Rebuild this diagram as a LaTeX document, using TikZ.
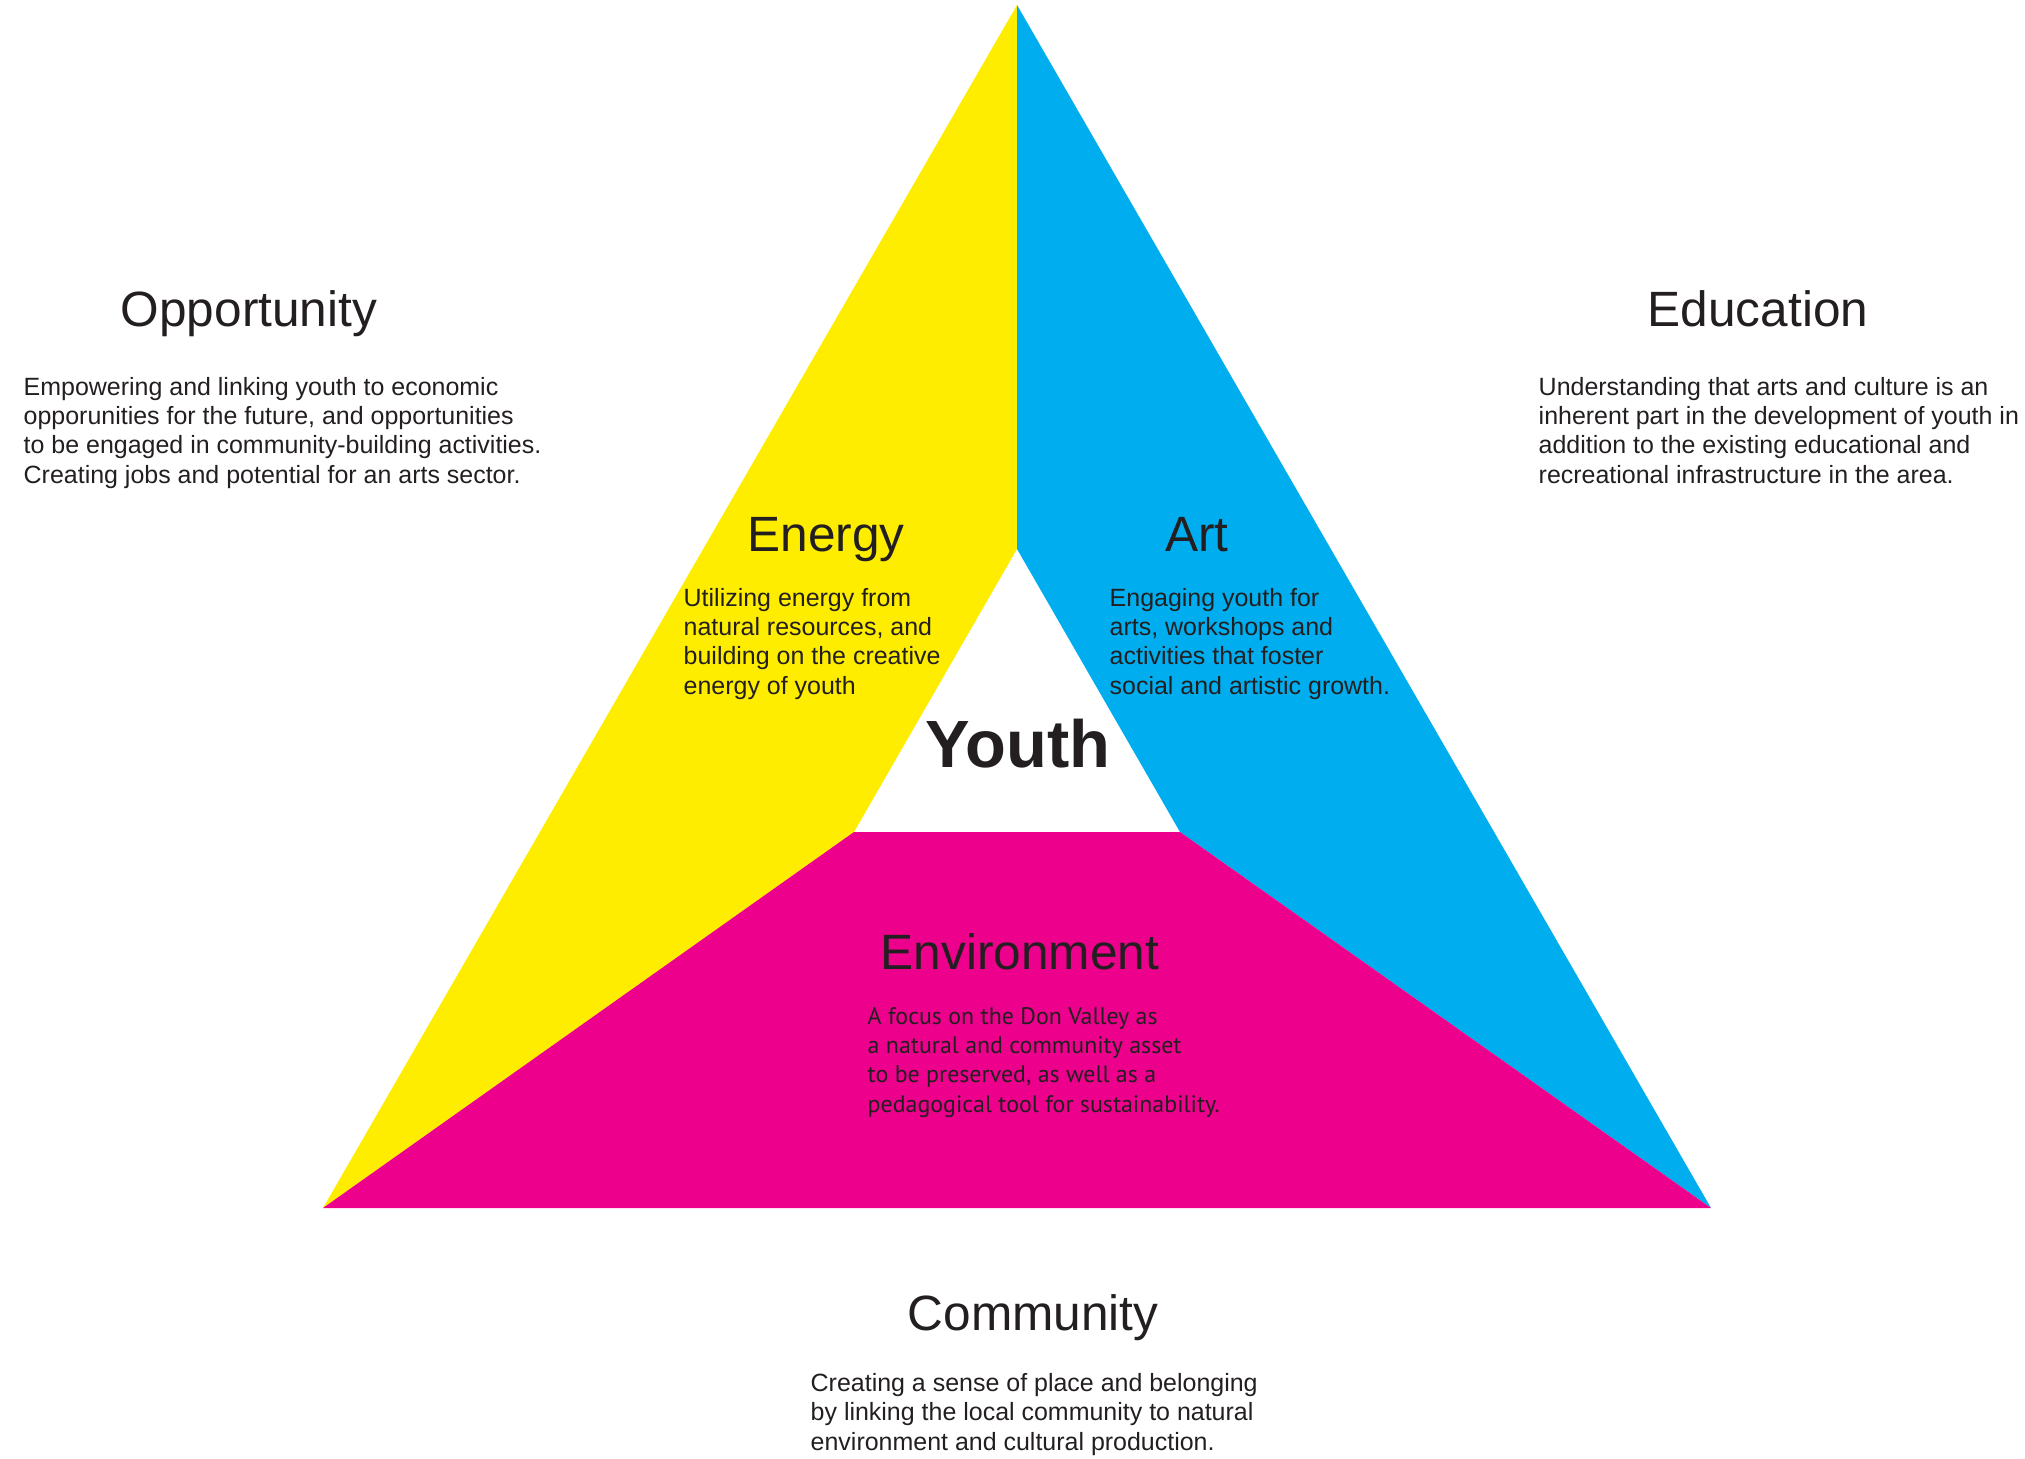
\documentclass[tikz,border=0pt]{standalone}
\usepackage{fontspec}
\setmainfont{Liberation Sans}
\newfontfamily\envfont{PT Sans}
\definecolor{triYellow}{HTML}{FFED00}
\definecolor{triCyan}{HTML}{00AEEF}
\definecolor{triMagenta}{HTML}{EC008C}
\definecolor{inkGray}{HTML}{231F20}
\begin{document}
\begin{tikzpicture}[x=0.01cm, y=-0.01cm,
  head/.style={inner sep=0, anchor=base, text=inkGray, font=\fontsize{14.1}{16}\selectfont},
  blurb/.style={inner sep=0, anchor=base west, align=left, text=inkGray, font=\fontsize{7.1}{8.34}\selectfont}]
\useasboundingbox (0,0) rectangle (2025,1458);
\coordinate (apex) at (1017,5);
\coordinate (bl) at (323,1208);
\coordinate (br) at (1711,1208);
\coordinate (itop) at (1017,549);
\coordinate (ileft) at (854,832);
\coordinate (iright) at (1180,832);
\fill[triYellow] (apex) -- (itop) -- (ileft) -- (bl) -- cycle;
\fill[triCyan] (apex) -- (br) -- (iright) -- (itop) -- cycle;
\fill[triMagenta] (ileft) -- (iright) -- (br) -- (bl) -- cycle;
% blurbs sit on the baseline of their last line
\node[head] (opp) at (249,327) {Opportunity};
\node[blurb] (oppText) at (23,483) {Empowering and linking youth to economic\\opporunities for the future, and opportunities\\to be engaged in community-building activities.\\Creating jobs and potential for an arts sector.};
\node[head] (edu) at (1758,327) {Education};
\node[blurb] (eduText) at (1538,483) {Understanding that arts and culture is an\\inherent part in the development of youth in\\addition to the existing educational and\\recreational infrastructure in the area.};
\node[head] (energy) at (826,551) {Energy};
\node[blurb] (energyText) at (683,694) {Utilizing energy from\\natural resources, and\\building on the creative\\energy of youth};
\node[head] (art) at (1197,551) {Art};
\node[blurb] (artText) at (1109,694) {Engaging youth for\\arts, workshops and\\activities that foster\\social and artistic growth.};
\node[head, font=\bfseries\fontsize{19}{22}\selectfont] (youth) at (1018,767) {Youth};
\node[head] (env) at (1020,969) {Environment};
\node[blurb, font=\envfont\fontsize{6.8}{8.34}\selectfont] (envText) at (867,1112) {A focus on the Don Valley as\\a natural and community asset\\to be preserved, as well as a\\pedagogical tool for sustainability.};
\node[head] (comm) at (1033,1330) {Community};
\node[blurb] (commText) at (810,1450) {Creating a sense of place and belonging\\by linking the local community to natural\\environment and cultural production.};
\end{tikzpicture}
\end{document}
